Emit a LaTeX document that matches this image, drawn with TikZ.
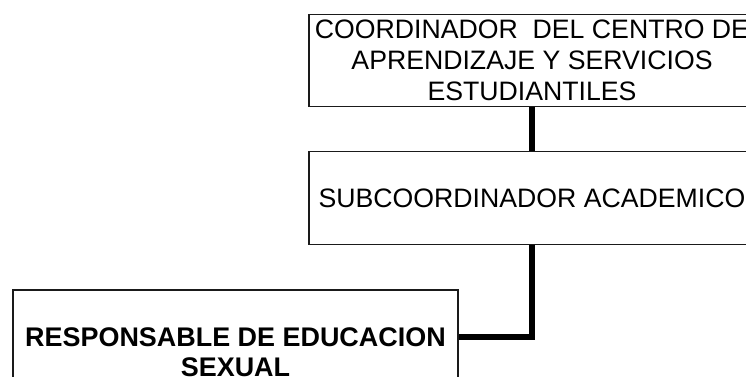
\documentclass[tikz,border=0pt]{standalone}
\usepackage{fontspec}
\setmainfont{Liberation Sans}
\definecolor{boxborder}{HTML}{1A1A1A}
\definecolor{linkline}{HTML}{000000}
\tikzset{
  cargo/.style={rectangle, draw=boxborder, line width=0.9pt, inner sep=0pt, align=center,
    font=\fontsize{20}{23.25}\selectfont},
  jefe/.style={cargo, minimum width=334.5pt, minimum height=69.5pt},
  responsable/.style={cargo, minimum width=333.75pt, minimum height=93pt,
    font=\fontsize{20.2}{22.5}\selectfont\bfseries},
  link/.style={line width=4.6pt, draw=linkline}
}

\begin{document}
\begin{tikzpicture}[x=0.75pt, y=-0.75pt]

% canvas, as in the reference
\useasboundingbox (0,0) rectangle (746,376);
\clip (0,0) rectangle (746,376);

% --- Cargos ---
\node[jefe] (coordinador) at (532,60.5) {COORDINADOR\ \ DEL CENTRO DE\\APRENDIZAJE Y SERVICIOS\\ESTUDIANTILES};
\node[jefe] (subcoord) at (532,198) {SUBCOORDINADOR ACADEMICO};
\node[responsable] (educsexual) at (235.5,352) {RESPONSABLE DE EDUCACION\\SEXUAL};

% --- Lineas de mando ---
\draw[link] (coordinador.south) -- (subcoord.north);
\draw[link] (subcoord.south) |- ([yshift=11.25pt]educsexual.east);

\end{tikzpicture}
\end{document}
